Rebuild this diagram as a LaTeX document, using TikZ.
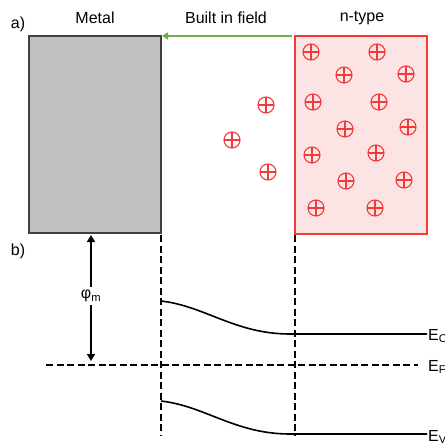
\documentclass[tikz,border=0pt]{standalone}
\usepackage{fontspec}
\setmainfont{Liberation Sans}
\usetikzlibrary{arrows.meta}
\definecolor{pinkred}{HTML}{F23A3A}
\definecolor{pinkfill}{HTML}{FDE4E4}
\definecolor{fieldgreen}{HTML}{70AD47}
\definecolor{metalgray}{HTML}{C0C0C0}
\begin{document}
\begin{tikzpicture}[x=1pt,y=-1pt,
  lbl/.style={font=\fontsize{16}{19}\selectfont, inner sep=0pt},
  plus/.style={circle, draw=pinkred, line width=1.1pt, minimum size=16pt, inner sep=0pt,
     path picture={\draw[pinkred, line width=1.1pt] (path picture bounding box.north) -- (path picture bounding box.south)
       (path picture bounding box.west) -- (path picture bounding box.east);}},
  vdash/.style={line width=1.5pt, dash pattern=on 7pt off 3.5pt},
  band/.style={line width=1.6pt}
]
\useasboundingbox (0,0) rectangle (445,445);
% labels
\node[lbl] (la) at (18,24) {a)};
\node[lbl] (lb) at (18,251) {b)};
\node[lbl] (lmetal) at (95,18) {Metal};
\node[lbl] (lfield) at (226,18) {Built in field};
\node[lbl] (lntype) at (362,18) {n-type};
% metal
\draw[fill=metalgray, draw=black!75, line width=1.4pt] (29,36) rectangle (161,233);
\coordinate (mtr) at (162,36);
% n-type
\draw[fill=pinkfill, draw=pinkred, line width=1.4pt] (295,36) rectangle (427,234);
\coordinate (ntl) at (292,36);
% field arrow
\draw[fieldgreen, line width=2.4pt, -{Triangle[length=6pt,width=7pt]}] (ntl) -- (mtr);
% plus charges
\foreach \px/\py [count=\i] in {311/52,377/52,344/75,406/74,313/102,379/102,345/129,408/127,312/155,376/153,346/181,404/180,316/208,375/208,266/105,232/140,268/172}{
  \node[plus] (p\i) at (\px,\py) {};
}
% dashed verticals
\coordinate (v1t) at (161,235); \coordinate (v1b) at (161,436);
\coordinate (v2t) at (295,235); \coordinate (v2b) at (295,436);
\draw[vdash] (v1t) -- (v1b);
\draw[vdash] (v2t) -- (v2b);
% phi arrow
\coordinate (phit) at (91,235);
\coordinate (phib) at (91,361);
\node[lbl] (phi) at (91,296) {φ\textsubscript{m}};
\draw[line width=2pt, -{Triangle[length=7pt,width=8pt]}] (phi.north) ++(0,-3) -- (phit);
\draw[line width=2pt, -{Triangle[length=7pt,width=8pt]}] (phi.south) ++(0,3) -- (phib);
% fermi level
\coordinate (efl) at (46,365);
\coordinate (efr) at (418,365);
\draw[vdash] (efl) -- (efr);
\node[lbl, anchor=west] (ef) at (428,367) {E\textsubscript{F}};
% conduction band
\coordinate (ec0) at (161,301);
\coordinate (ec1) at (290,334);
\coordinate (ec2) at (427,334);
\draw[band] (ec0) .. controls (205,306) and (235,334) .. (ec1) -- (ec2);
\node[lbl, anchor=west] (ec) at (428,336) {E\textsubscript{C}};
% valence band
\coordinate (ev0) at (161,401);
\coordinate (ev1) at (290,434);
\coordinate (ev2) at (427,434);
\draw[band] (ev0) .. controls (205,406) and (235,434) .. (ev1) -- (ev2);
\node[lbl, anchor=west] (ev) at (428,437) {E\textsubscript{V}};
\end{tikzpicture}
\end{document}
